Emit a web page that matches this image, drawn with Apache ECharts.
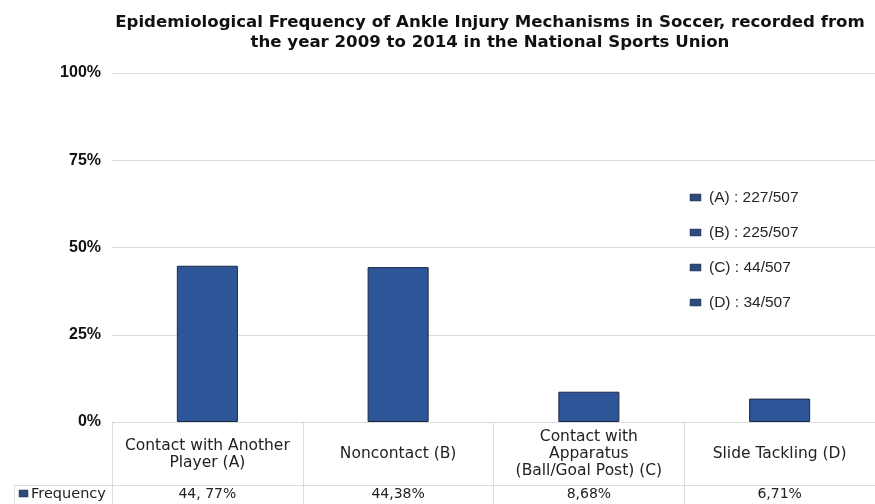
<!DOCTYPE html>
<html>
<head>
<meta charset="utf-8">
<style>
  html, body { margin: 0; padding: 0; background: #fff; }
  #chart { width: 875px; height: 504px; }
</style>
<script src="https://cdn.jsdelivr.net/npm/echarts@6/dist/echarts.min.js"></script>
</head>
<body>
<div id="chart"></div>
<script>
// chart data
const categories = [
  'Contact with Another\nPlayer (A)',
  'Noncontact (B)',
  'Contact with\nApparatus\n(Ball/Goal Post) (C)',
  'Slide Tackling (D)'
];
const frequency = [44.77, 44.38, 8.68, 6.71];
const frequencyLabels = ['44, 77%', '44,38%', '8,68%', '6,71%'];
const countLabels = ['(A) : 227/507', '(B) : 225/507', '(C) : 44/507', '(D) : 34/507'];
const yTicks = [0, 25, 50, 75, 100];

const barColor = '#2e5597';
const lineColor = '#dcdcdc';
const font = '"DejaVu Sans", Verdana, sans-serif';

const chart = echarts.init(document.getElementById('chart'));

// legend-like notes on the right
const notes = [];
countLabels.forEach((txt, i) => {
  const y = 198 + i * 35;
  notes.push({
    type: 'rect',
    shape: { x: 690, y: y - 4, width: 11, height: 7 },
    style: { fill: '#2f4b7c', stroke: '#1c2c48', lineWidth: 0.5 }
  });
  notes.push({
    type: 'text',
    x: 709, y: y,
    style: { text: txt, font: '15.5px "Liberation Sans", Arial, sans-serif', fill: '#262626', verticalAlign: 'middle' }
  });
});

const option = {
  animation: false,
  title: {
    text: 'Epidemiological Frequency of Ankle Injury Mechanisms in Soccer, recorded from\nthe year 2009 to 2014 in the National Sports Union',
    left: 485,
    top: 8,
    textAlign: 'center',
    textStyle: { fontFamily: font, fontWeight: 'bold', fontSize: 16.6, lineHeight: 20, color: '#111' }
  },
  grid: { left: 112, right: -5, top: 73, bottom: 82 },
  xAxis: [
    {
      type: 'category',
      data: categories,
      axisLine: { lineStyle: { color: lineColor } },
      axisTick: { show: true, length: 82, lineStyle: { color: lineColor } },
      axisLabel: {
        interval: 0, margin: 32, verticalAlign: 'middle',
        fontFamily: font, fontSize: 15.5, lineHeight: 17, color: '#222'
      }
    },
    {
      type: 'category',
      position: 'bottom',
      offset: 63,
      data: frequencyLabels,
      axisLine: { lineStyle: { color: lineColor } },
      axisTick: { show: false },
      axisLabel: {
        interval: 0, margin: 9, verticalAlign: 'middle',
        fontFamily: font, fontSize: 14, color: '#222'
      }
    }
  ],
  yAxis: {
    type: 'value',
    min: 0, max: 100, interval: 25,
    axisLine: { show: false },
    axisTick: { show: false },
    splitLine: { lineStyle: { color: lineColor } },
    axisLabel: {
      margin: 11,
      formatter: v => yTicks.includes(v) ? v + '%' : '',
      fontFamily: '"Liberation Sans", Arial, sans-serif', fontWeight: 'bold', fontSize: 16, color: '#111'
    }
  },
  series: [{
    type: 'bar',
    name: 'Frequency',
    xAxisIndex: 0,
    data: frequency,
    barWidth: '32%',
    itemStyle: { color: barColor, borderColor: '#1b2a45', borderWidth: 1 }
  }],
  graphic: [
    // Frequency row header
    { type: 'line', shape: { x1: 14, y1: 485.5, x2: 112, y2: 485.5 }, style: { stroke: lineColor } },
    { type: 'line', shape: { x1: 14.5, y1: 485, x2: 14.5, y2: 504 }, style: { stroke: lineColor } },
    { type: 'rect', shape: { x: 19, y: 490, width: 9, height: 7 }, style: { fill: '#2f4b7c', stroke: '#1c2c48', lineWidth: 0.5 } },
    { type: 'text', x: 31, y: 494, style: { text: 'Frequency', font: '14.5px ' + font, fill: '#222', verticalAlign: 'middle' } }
  ].concat(notes)
};

chart.setOption(option);
</script>
</body>
</html>
